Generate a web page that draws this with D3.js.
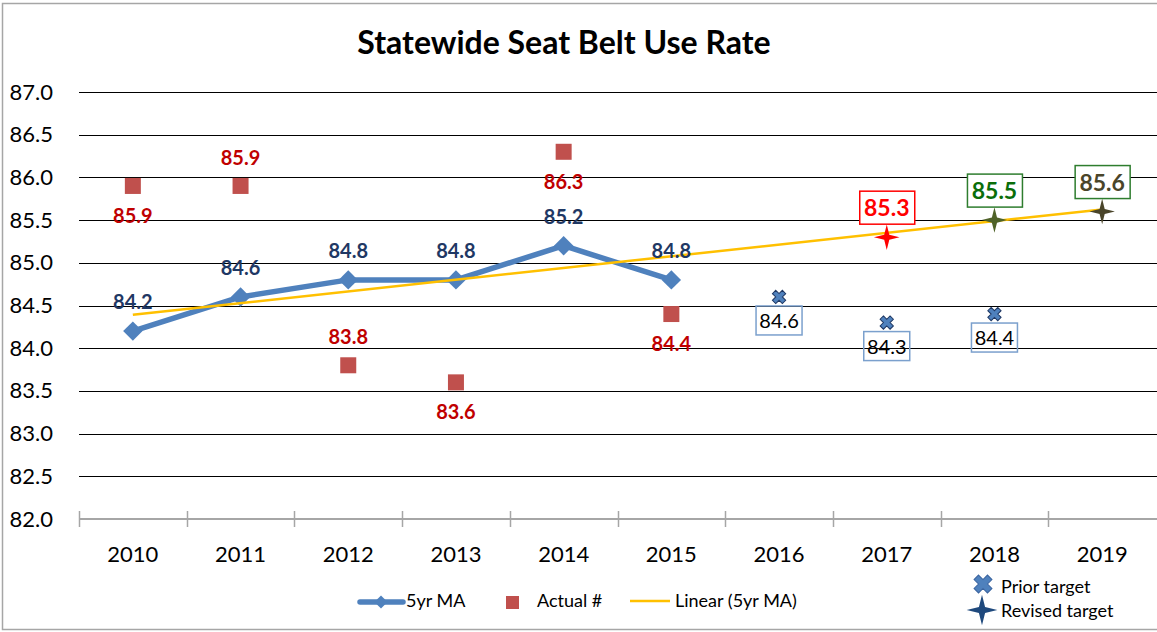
<!DOCTYPE html>
<html>
    <head>
        <meta charset="utf-8">
        <title>Statewide Seat Belt Use Rate</title>
        <script type="text/javascript" src="https://cdnjs.cloudflare.com/ajax/libs/d3/7.8.5/d3.min.js"></script>
        <style>
            body { margin: 0; background: #fff; }
            svg { display: block; font-family: Lato, "Open Sans", sans-serif; }
        </style>
    </head>

    <body>
        <svg id="chart"></svg>
    </body>

    <script type="text/javascript">
        const WIDTH = 1157;
        const HEIGHT = 632;

        // Data
        const years = ["2010", "2011", "2012", "2013", "2014", "2015", "2016", "2017", "2018", "2019"];
        const maYears = ["2010", "2011", "2012", "2013", "2014", "2015"];
        const maValues = [84.2, 84.6, 84.8, 84.8, 85.2, 84.8];
        const actualValues = [85.9, 85.9, 83.8, 83.6, 86.3, 84.4];
        const actualLabelSide = ["below", "above", "above", "below", "below", "below"];
        const priorYears = ["2016", "2017", "2018"];
        const priorValues = [84.6, 84.3, 84.4];
        const revisedYears = ["2017", "2018", "2019"];
        const revisedValues = [85.3, 85.5, 85.6];
        const yTicks = [82.0, 82.5, 83.0, 83.5, 84.0, 84.5, 85.0, 85.5, 86.0, 86.5, 87.0];

        // styling of the three revised target points
        const revisedMarkColors = ["#FF0000", "#4F6228", "#4A452A"];
        const revisedTextColors = ["#FF0000", "#0A6E0A", "#4A452A"];
        const revisedBoxColors = ["#FF0000", "#2E7D2E", "#2E7D2E"];

        const BLUE = "#4F81BD";
        const NAVY = "#1F3864";

        var svg = d3.select("#chart")
            .attr("width", WIDTH)
            .attr("height", HEIGHT);

        // outer chart border
        svg.append("rect")
            .attr("x", 2.5).attr("y", 3.5)
            .attr("width", WIDTH + 10).attr("height", 626)
            .attr("fill", "none")
            .attr("stroke", "#A6A6A6")
            .attr("stroke-width", 1.5);

        var x = d3.scaleBand()
            .domain(years)
            .range([79, 1156]);
        var cx = function(yr) { return x(yr) + x.bandwidth() / 2; };

        var y = d3.scaleLinear()
            .domain([82, 87])
            .range([519, 92]);

        // title
        svg.append("text")
            .attr("x", 564).attr("y", 54)
            .attr("text-anchor", "middle")
            .attr("font-size", "32px")
            .attr("font-weight", "bold")
            .attr("fill", "#000")
            .text("Statewide Seat Belt Use Rate");

        // gridlines
        var grid = svg.append("g")
            .attr("transform", "translate(79,0)")
            .call(d3.axisLeft(y).tickValues(yTicks.slice(1)).tickSize(-(WIDTH - 79)).tickFormat(""));
        grid.select(".domain").remove();
        grid.selectAll("line").attr("stroke", "#000").attr("stroke-width", 1).attr("shape-rendering", "crispEdges");

        // y labels
        var yAxis = svg.append("g")
            .attr("transform", "translate(53,0)")
            .call(d3.axisLeft(y).tickValues(yTicks).tickSize(0).tickPadding(0).tickFormat(d3.format(".1f")));
        yAxis.select(".domain").remove();
        yAxis.selectAll("text")
            .attr("font-size", "22px")
            .attr("font-family", "Lato, sans-serif")
            .attr("fill", "#000");

        // x axis line with crossing ticks at category boundaries
        var xAxisG = svg.append("g");
        xAxisG.append("line")
            .attr("x1", 79).attr("x2", WIDTH)
            .attr("y1", y(82)).attr("y2", y(82))
            .attr("stroke", "#A6A6A6").attr("stroke-width", 2);
        xAxisG.selectAll(".tk")
            .data(years)
            .enter()
            .append("line")
            .attr("x1", function(d) { return Math.round(x(d)) + 0.5; })
            .attr("x2", function(d) { return Math.round(x(d)) + 0.5; })
            .attr("y1", y(82) - 8).attr("y2", y(82) + 8)
            .attr("stroke", "#A6A6A6").attr("stroke-width", 1.5);
        xAxisG.selectAll(".lbl")
            .data(years)
            .enter()
            .append("text")
            .attr("x", function(d) { return cx(d); })
            .attr("y", 562)
            .attr("text-anchor", "middle")
            .attr("font-size", "22px")
            .attr("fill", "#000")
            .text(function(d) { return d; });

        // linear trend of the 5yr MA (least squares), drawn across all years
        var n = maValues.length;
        var mx = d3.mean(d3.range(n));
        var my = d3.mean(maValues);
        var slope = d3.sum(d3.range(n), function(i) { return (i - mx) * (maValues[i] - my); }) /
                    d3.sum(d3.range(n), function(i) { return (i - mx) * (i - mx); });
        var trendAt = function(i) { return my + slope * (i - mx); };
        var trendData = [0, years.length - 1].map(function(i) { return { yr: years[i], v: trendAt(i) }; });

        // Actual squares
        svg.selectAll(".actual")
            .data(actualValues)
            .enter()
            .append("rect")
            .attr("x", function(d, i) { return cx(years[i]) - 8; })
            .attr("y", function(d) { return y(d) - 8; })
            .attr("width", 16).attr("height", 16)
            .attr("fill", "#C0504D");

        // 5yr MA line
        var line = d3.line()
            .x(function(d, i) { return cx(maYears[i]); })
            .y(function(d) { return y(d); });
        svg.append("path")
            .datum(maValues)
            .attr("d", line)
            .attr("fill", "none")
            .attr("stroke", BLUE)
            .attr("stroke-width", 5.5)
            .attr("stroke-linejoin", "round")
            .attr("stroke-linecap", "round");

        svg.selectAll(".ma")
            .data(maValues)
            .enter()
            .append("path")
            .attr("d", d3.symbol().type(d3.symbolDiamond2).size(240))
            .attr("transform", function(d, i) { return "translate(" + cx(maYears[i]) + "," + y(d) + ")"; })
            .attr("fill", BLUE);

        // trend line
        svg.append("path")
            .datum(trendData)
            .attr("d", d3.line().x(function(d) { return cx(d.yr); }).y(function(d) { return y(d.v); }))
            .attr("stroke", "#FFC000")
            .attr("stroke-width", 2.5)
            .attr("fill", "none");

        // labels for MA
        svg.selectAll(".maLbl")
            .data(maValues)
            .enter()
            .append("text")
            .attr("x", function(d, i) { return cx(maYears[i]); })
            .attr("y", function(d) { return y(d) - 22; })
            .attr("text-anchor", "middle")
            .attr("font-size", "20px")
            .attr("font-weight", "bold")
            .attr("fill", NAVY)
            .text(function(d) { return d.toFixed(1); });

        // labels for Actual
        svg.selectAll(".actLbl")
            .data(actualValues)
            .enter()
            .append("text")
            .attr("x", function(d, i) { return cx(years[i]); })
            .attr("y", function(d, i) { return actualLabelSide[i] === "above" ? y(d) - 21 : y(d) + 37; })
            .attr("text-anchor", "middle")
            .attr("font-size", "20px")
            .attr("font-weight", "bold")
            .attr("fill", "#C00000")
            .text(function(d) { return d.toFixed(1); });

        // four point star
        var star4 = {
            draw: function(context, size) {
                var r = Math.sqrt(size) * 0.75;
                var w = r * 0.2;
                context.moveTo(0, -r);
                context.lineTo(w, -w);
                context.lineTo(r, 0);
                context.lineTo(w, w);
                context.lineTo(0, r);
                context.lineTo(-w, w);
                context.lineTo(-r, 0);
                context.lineTo(-w, -w);
                context.closePath();
            }
        };

        // prior targets
        svg.selectAll(".prior")
            .data(priorValues)
            .enter()
            .append("path")
            .attr("d", d3.symbol().type(d3.symbolCross).size(110))
            .attr("transform", function(d, i) { return "translate(" + cx(priorYears[i]) + "," + y(d) + ") rotate(45)"; })
            .attr("fill", BLUE)
            .attr("stroke", NAVY)
            .attr("stroke-width", 1);

        var priorLbl = svg.selectAll(".priorLbl")
            .data(priorValues)
            .enter()
            .append("g")
            .attr("transform", function(d, i) { return "translate(" + cx(priorYears[i]) + "," + (y(d) + 9) + ")"; });
        priorLbl.append("rect")
            .attr("x", -23).attr("y", 0)
            .attr("width", 46).attr("height", 29)
            .attr("fill", "none")
            .attr("stroke", "#7BA0CD")
            .attr("stroke-width", 1.5);
        priorLbl.append("text")
            .attr("x", 0).attr("y", 22)
            .attr("text-anchor", "middle")
            .attr("font-size", "20px")
            .attr("fill", "#000")
            .text(function(d) { return d.toFixed(1); });

        // revised targets
        svg.selectAll(".revised")
            .data(revisedValues)
            .enter()
            .append("path")
            .attr("d", d3.symbol().type(star4).size(290))
            .attr("transform", function(d, i) { return "translate(" + cx(revisedYears[i]) + "," + y(d) + ")"; })
            .attr("fill", function(d, i) { return revisedMarkColors[i]; });

        var revLbl = svg.selectAll(".revLbl")
            .data(revisedValues)
            .enter()
            .append("g")
            .attr("transform", function(d, i) { return "translate(" + cx(revisedYears[i]) + "," + (y(d) - 13) + ")"; });
        revLbl.append("rect")
            .attr("x", -27).attr("y", -33)
            .attr("width", 55).attr("height", 33)
            .attr("fill", "#fff")
            .attr("stroke", function(d, i) { return revisedBoxColors[i]; })
            .attr("stroke-width", 1.5);
        revLbl.append("text")
            .attr("x", 0).attr("y", -8)
            .attr("text-anchor", "middle")
            .attr("font-size", "23px")
            .attr("font-weight", "bold")
            .attr("fill", function(d, i) { return revisedTextColors[i]; })
            .text(function(d) { return d.toFixed(1); });

        // legend row 1
        var legend = svg.append("g").attr("font-size", "18px").attr("fill", "#000");
        legend.append("line")
            .attr("x1", 360).attr("x2", 403).attr("y1", 602).attr("y2", 602)
            .attr("stroke", BLUE).attr("stroke-width", 5.5).attr("stroke-linecap", "round");
        legend.append("path")
            .attr("d", d3.symbol().type(d3.symbolDiamond2).size(110))
            .attr("transform", "translate(381,602)")
            .attr("fill", BLUE);
        legend.append("text").attr("x", 406).attr("y", 607).text("5yr MA");
        legend.append("rect")
            .attr("x", 506).attr("y", 596).attr("width", 13).attr("height", 13)
            .attr("fill", "#C0504D");
        legend.append("text").attr("x", 537).attr("y", 607).text("Actual #");
        legend.append("line")
            .attr("x1", 630).attr("x2", 670).attr("y1", 601).attr("y2", 601)
            .attr("stroke", "#FFC000").attr("stroke-width", 2.5);
        legend.append("text").attr("x", 675).attr("y", 607).text("Linear (5yr MA)");

        // legend row 2 (targets)
        legend.append("path")
            .attr("d", d3.symbol().type(d3.symbolCross).size(200))
            .attr("transform", "translate(983,584) rotate(45)")
            .attr("fill", BLUE)
            .attr("stroke", "#3A64A0")
            .attr("stroke-width", 1);
        legend.append("text").attr("x", 1001).attr("y", 593).text("Prior target");
        legend.append("path")
            .attr("d", d3.symbol().type(star4).size(420))
            .attr("transform", "translate(982,610)")
            .attr("fill", "#1F497D");
        legend.append("text").attr("x", 1001).attr("y", 617).text("Revised target");
    </script>
</html>
